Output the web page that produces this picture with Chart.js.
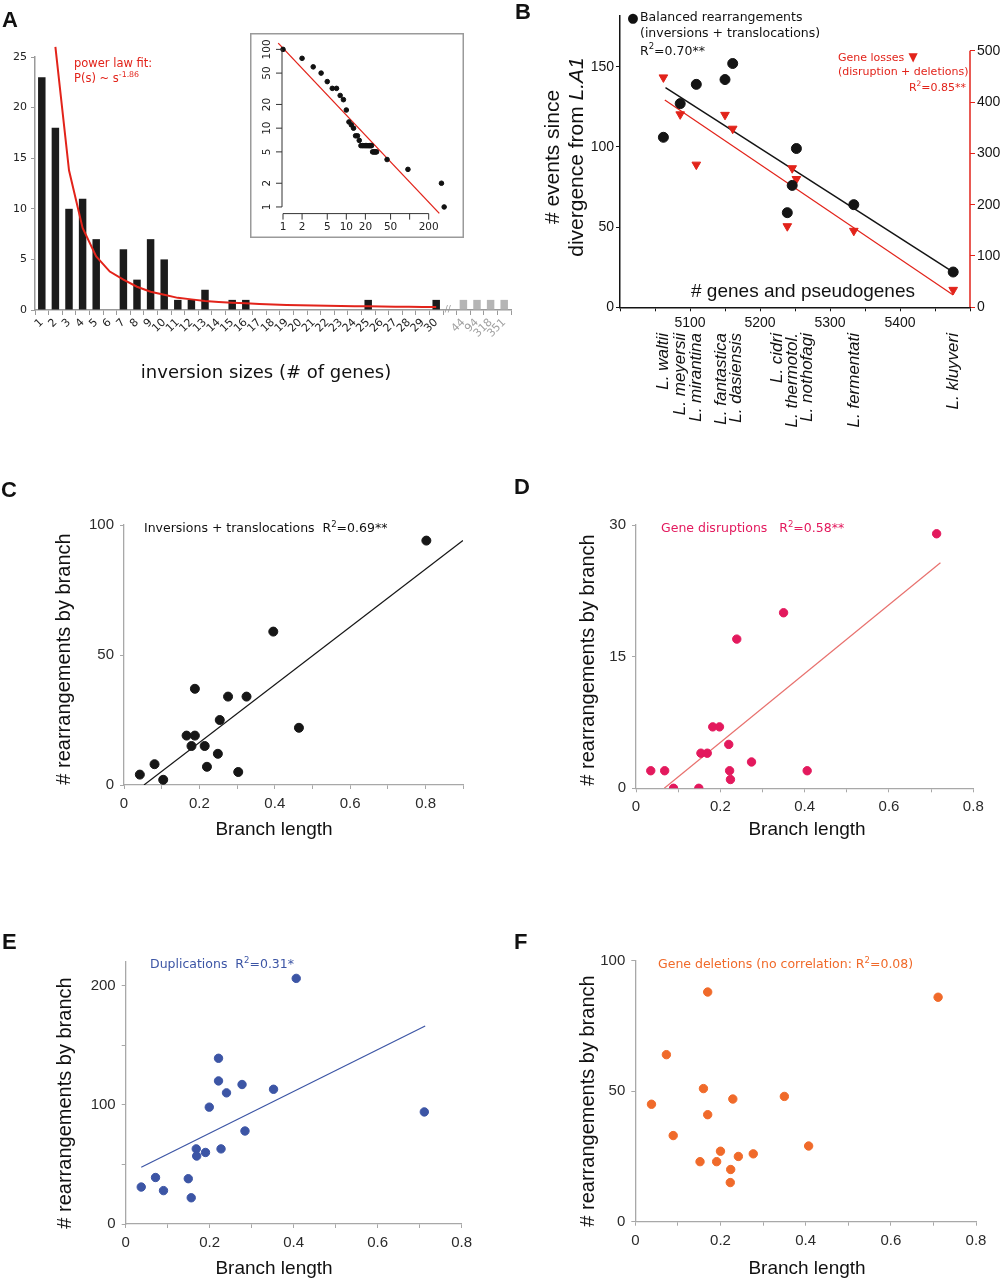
<!DOCTYPE html>
<html>
<head>
<meta charset="utf-8">
<title>Rearrangements and branch length</title>
<script src="https://cdn.jsdelivr.net/npm/chart.js@4.4.1/dist/chart.umd.min.js"></script>
<style>
  body { margin: 0; background: #fff; }
  #page { position: relative; width: 1000px; height: 1280px; overflow: hidden; }
  canvas { position: absolute; }
  .tag { position: absolute; z-index: 5; font: bold 22px "Liberation Sans", Arial, sans-serif; line-height: 22px; color: #111; }
</style>
</head>
<body>
<div id="page"></div>
<script>
const sans = '"Liberation Sans", Arial, sans-serif';
const deja = '"DejaVu Sans", Verdana, sans-serif';
const red = '#e2231a';

// ---- A: inversion size histogram
const sizeLabels = ['1','2','3','4','5','6','7','8','9','10','11','12','13','14','15','16','17','18','19','20',
                    '21','22','23','24','25','26','27','28','29','30','','44','94','318','351'];
const sizeCounts = [23,18,10,11,7,0,6,3,7,5,1,1,2,0,1,1,0,0,0,0,0,0,0,0,1,0,0,0,0,1,null,1,1,1,1];
const countTicks = [0,5,10,15,20,25];
// power law curve, one value per size category (none for size 1 or past 30)
const fitValues = [null,26,13.8,8.1,5.3,3.8,3.0,2.3,1.8,1.5,1.2,1.05,0.9,0.8,0.72,0.66,0.6,0.55,0.5,0.47,
                   0.45,0.42,0.4,0.38,0.36,0.34,0.33,0.32,0.3,0.29,null,null,null,null,null];

// ---- A inset: cumulative counts, log-log
const ccdfSizes = [1,2,3,4,5,6,7,8,9,10,11,12,13,14,15,16,17,18,19,20,21,22,23,24,25,26,27,28,29,30,44,94,318,351];
const ccdfCounts = [100,77,60,50,39,32,32,26,23,17,12,11,10,8,8,7,6,6,6,6,6,6,6,6,6,5,5,5,5,5,4,3,2,1];
const insetFitX = [0.84, 294];
const insetFitY = [120, 0.83];
const insetXTicks = [1,2,5,10,20,50,100,200];
const insetXLabels = ['1','2','5','10','20','50','','200'];
const insetYTicks = [1,2,5,10,20,50,100];

// ---- B: events vs genes
const species = ['L. waltii','L. meyersii','L. mirantina','L. fantastica','L. dasiensis',
                 'L. cidri','L. thermotol.','L. nothofagi','L. fermentati','L. kluyveri'];
const geneCounts = [5062,5086,5109,5150,5161,5239,5246,5252,5334,5476];
const balancedEvents = [106,127,139,142,152,59,76,99,64,22];
const geneLosses = [448,376,278,375,348,158,271,250,149,34];
const balancedFitX = [5065, 5476];
const balancedFitY = [137, 22];
const lossFitX = [5064, 5476];
const lossFitY = [404, 24];
const geneTicks = [5000,5050,5100,5150,5200,5250,5300,5350,5400,5450,5500];
const geneTickLabels = ['','','5100','','5200','','5300','','5400','',''];
const eventTicks = [0,50,100,150];
const lossTicks = [0,100,200,300,400,500];

// ---- C-F: per-branch counts vs branch length
const branchTicks = [0,0.1,0.2,0.3,0.4,0.5,0.6,0.7,0.8,0.9];
const branchTickLabels = ['0','','0.2','','0.4','','0.6','','0.8',''];

const invBranch = [0.042,0.081,0.104,0.166,0.188,0.188,0.179,0.214,0.220,0.249,0.254,0.276,0.325,0.303,0.396,0.464,0.802];
const invCount = [4,8,2,19,19,37,15,15,7,12,25,34,34,5,59,22,94];
const invFitX = [0.053, 0.899];
const invFitY = [0, 94];
const invTicks = [0,50,100];
const invTickLabels = ['0','50','100'];

const disBranch = [0.035,0.068,0.089,0.149,0.154,0.169,0.182,0.198,0.220,0.222,0.224,0.239,0.274,0.350,0.406,0.713];
const disCount = [2,2,0,0,4,4,7,7,5,2,1,17,3,20,2,29];
const disFitX = [0.067, 0.722];
const disFitY = [0, 25.7];
const disTicks = [0,15,30];
const disTickLabels = ['0','15','30'];

const dupBranch = [0.037,0.071,0.090,0.149,0.156,0.168,0.169,0.190,0.199,0.221,0.221,0.227,0.240,0.277,0.284,0.352,0.406,0.711];
const dupCount = [31,39,28,38,22,63,57,60,98,139,120,63,110,117,78,113,206,94];
const dupFitX = [0.037, 0.713];
const dupFitY = [47.6, 166];
const dupTicks = [0,50,100,150,200];
const dupTickLabels = ['0','','100','','200'];

const delBranch = [0.038,0.073,0.089,0.152,0.160,0.170,0.170,0.191,0.200,0.224,0.223,0.229,0.242,0.277,0.350,0.407,0.711];
const delCount = [45,64,33,23,51,88,41,23,27,20,15,47,25,26,48,29,86];
const delTicks = [0,50,100];
const delTickLabels = ['0','50','100'];

// ---------------------------------------------------------------
const page = document.getElementById('page');
Chart.defaults.font.family = sans;

function makeCanvas(box, bg) {
  const c = document.createElement('canvas');
  c.width = box[2]; c.height = box[3];
  c.style.left = box[0] + 'px'; c.style.top = box[1] + 'px';
  c.style.width = box[2] + 'px'; c.style.height = box[3] + 'px';
  if (bg) c.style.background = bg;
  page.appendChild(c);
  return c;
}
function tag(letter, x, y) {
  const d = document.createElement('div');
  d.className = 'tag'; d.textContent = letter;
  d.style.left = x + 'px'; d.style.top = y + 'px';
  page.appendChild(d);
}
const pts = (xs, ys) => xs.map((x, i) => ({x: x, y: ys[i]}));
const fix = vals => s => { s.ticks = vals.map(v => ({value: v})); };
const setW = w => s => { s.width = w; };
const setH = h => s => { s.height = h; };
const common = {
  responsive: false, animation: false, events: [], devicePixelRatio: 1,
  plugins: {legend: {display: false}, tooltip: {enabled: false}}
};

// text with ^{sup} and _{italic} pieces
function drawRich(ctx, n, ox, oy) {
  const size = n.size || 12.5, fam = n.family || deja;
  const parts = [];
  n.text.replace(/\^\{([^}]*)\}|_\{([^}]*)\}|([^^_]+)/g, (m, sup, it, txt) => {
    if (sup !== undefined) parts.push({t: sup, f: (size * 0.68) + 'px ' + fam, dy: -size * 0.36});
    else if (it !== undefined) parts.push({t: it, f: 'italic ' + size + 'px ' + fam, dy: 0});
    else parts.push({t: txt, f: size + 'px ' + fam, dy: 0});
    return m;
  });
  ctx.save();
  ctx.translate(n.x - ox, n.y - oy);
  if (n.rotate) ctx.rotate(n.rotate);
  ctx.fillStyle = n.color || '#111';
  ctx.textBaseline = 'middle';
  ctx.textAlign = 'left';
  let w = 0;
  parts.forEach(p => { ctx.font = p.f; p.w = ctx.measureText(p.t).width; w += p.w; });
  let x = n.align === 'center' ? -w / 2 : n.align === 'right' ? -w : 0;
  parts.forEach(p => { ctx.font = p.f; ctx.fillText(p.t, x, p.dy); x += p.w; });
  ctx.restore();
}
const notes = (items, box) => ({
  id: 'notes',
  afterDraw(chart) { items.forEach(n => drawRich(chart.ctx, n, box[0], box[1])); }
});

// ---------------- panel A
{
  const box = [0, 0, 520, 400], area = [35, 57, 511, 310];
  const axis = '#9a9a9a';
  new Chart(makeCanvas(box), {
    type: 'bar',
    data: {
      labels: sizeLabels,
      datasets: [
        {data: sizeCounts, backgroundColor: sizeCounts.map((v, i) => i > 30 ? '#b5b5b5' : '#1b1b1b'),
         barPercentage: 0.55, categoryPercentage: 1, order: 1},
        {type: 'line', data: fitValues, borderColor: red, borderWidth: 2, pointRadius: 0,
         tension: 0, clip: false, order: 0}
      ]
    },
    options: {
      ...common,
      layout: {padding: {left: 0, top: area[1] - box[1], right: box[0] + box[2] - area[2], bottom: 0}},
      scales: {
        x: {type: 'category', offset: true, afterFit: setH(box[3] - area[3]),
            grid: {offset: true, drawOnChartArea: false, tickLength: 5, tickColor: axis},
            border: {color: axis, width: 1.5},
            ticks: {autoSkip: false, minRotation: 45, maxRotation: 45, padding: 1,
                    font: {family: deja, size: 11}, color: c => c.index > 30 ? '#a0a0a0' : '#222'}},
        y: {min: 0, max: 25, afterBuildTicks: fix(countTicks), afterFit: setW(area[0] - box[0]),
            ticks: {padding: 4, font: {family: deja, size: 11}, color: '#222'},
            grid: {drawOnChartArea: false, tickLength: 4, tickColor: axis},
            border: {color: axis, width: 1.5}}
      }
    },
    plugins: [
      notes([
        {x: 74, y: 64, text: 'power law fit:', size: 11.5, color: red},
        {x: 74, y: 79, text: 'P(s) ~ s^{-1.86}', size: 11.5, color: red},
        {x: 266, y: 373, text: 'inversion sizes (# of genes)', size: 18, align: 'center'}
      ], box),
      {id: 'axisBreak', afterDraw(chart) {
        const ctx = chart.ctx, xs = chart.scales.x;
        ctx.save();
        ctx.font = '9px ' + deja; ctx.fillStyle = '#9a9a9a';
        ctx.textAlign = 'center'; ctx.textBaseline = 'middle';
        ctx.fillText('//', xs.getPixelForValue(30) - 2, chart.chartArea.bottom);
        ctx.restore();
      }}
    ]
  });
}

// ---------------- panel A inset
{
  const box = [250, 33, 214, 205];
  new Chart(makeCanvas(box, '#fff'), {
    type: 'scatter',
    data: {datasets: [
      {data: pts(ccdfSizes, ccdfCounts), backgroundColor: '#111', borderColor: '#111', pointRadius: 2.3, order: 0},
      {type: 'line', data: pts(insetFitX, insetFitY), borderColor: red, borderWidth: 1.3, pointRadius: 0, order: 1}
    ]},
    options: {
      ...common,
      layout: {padding: {left: 23.2, top: 7.4, right: 14.9, bottom: 23.4}},
      scales: {
        x: {type: 'logarithmic', display: false, min: 0.7, max: 420},
        y: {type: 'logarithmic', display: false, min: 0.8, max: 130}
      }
    },
    plugins: [{id: 'insetAxes', afterDraw(chart) {
      const ctx = chart.ctx, xs = chart.scales.x, ys = chart.scales.y;
      ctx.save();
      ctx.strokeStyle = '#9a9a9a'; ctx.lineWidth = 1.5;
      ctx.strokeRect(0.75, 0.75, chart.width - 1.5, chart.height - 1.5);
      const ax = xs.getPixelForValue(1) - 1, ay = chart.chartArea.bottom - 1;
      ctx.strokeStyle = '#333'; ctx.lineWidth = 1;
      ctx.beginPath();
      ctx.moveTo(ax, ys.getPixelForValue(1)); ctx.lineTo(ax, ys.getPixelForValue(100));
      ctx.moveTo(xs.getPixelForValue(1), ay); ctx.lineTo(xs.getPixelForValue(200), ay);
      insetYTicks.forEach(v => { const y = ys.getPixelForValue(v); ctx.moveTo(ax - 6, y); ctx.lineTo(ax, y); });
      insetXTicks.forEach(v => { const x = xs.getPixelForValue(v); ctx.moveTo(x, ay); ctx.lineTo(x, ay + 6); });
      ctx.stroke();
      ctx.fillStyle = '#222'; ctx.font = '10.5px ' + deja;
      ctx.textAlign = 'center'; ctx.textBaseline = 'middle';
      insetXTicks.forEach((v, i) => ctx.fillText(insetXLabels[i], xs.getPixelForValue(v), ay + 14));
      insetYTicks.forEach(v => {
        ctx.save();
        ctx.translate(ax - 15, ys.getPixelForValue(v));
        ctx.rotate(-Math.PI / 2);
        ctx.fillText(String(v), 0, 0);
        ctx.restore();
      });
      ctx.restore();
    }}]
  });
}

// ---------------- panel B
function spread(px, gap) {
  const out = px.slice();
  const groups = px.map((p, i) => [i]);
  const place = g => {
    const mean = g.reduce((s, i) => s + px[i], 0) / g.length;
    g.forEach((i, k) => { out[i] = mean + (k - (g.length - 1) / 2) * gap; });
  };
  let changed = true;
  while (changed) {
    changed = false;
    for (let g = 0; g < groups.length - 1; g++) {
      const a = groups[g], b = groups[g + 1];
      if (out[b[0]] - out[a[a.length - 1]] < gap) {
        groups.splice(g, 2, a.concat(b));
        place(groups[g]);
        changed = true;
        break;
      }
    }
  }
  return out;
}
{
  const box = [520, 0, 480, 440], area = [620, 15.4, 970, 307.3];
  const ink = '#141414';
  const tickFont = {family: sans, size: 14};
  new Chart(makeCanvas(box), {
    type: 'scatter',
    data: {datasets: [
      {data: pts(geneCounts, balancedEvents), yAxisID: 'y', backgroundColor: ink, borderColor: ink, pointRadius: 5, order: 0},
      {data: pts(geneCounts, geneLosses), yAxisID: 'y2', pointStyle: 'triangle', rotation: 180, pointRadius: 5,
       backgroundColor: red, borderColor: red, order: 0},
      {type: 'line', data: pts(balancedFitX, balancedFitY), yAxisID: 'y', borderColor: ink, borderWidth: 1.5, pointRadius: 0, order: 1},
      {type: 'line', data: pts(lossFitX, lossFitY), yAxisID: 'y2', borderColor: red, borderWidth: 1.2, pointRadius: 0, order: 1}
    ]},
    options: {
      ...common,
      layout: {padding: {left: 0, top: area[1], right: 0, bottom: box[3] - area[3] - 40}},
      scales: {
        x: {type: 'linear', min: 5000, max: 5500, afterBuildTicks: fix(geneTicks), afterFit: setH(40),
            ticks: {callback: (v, i) => geneTickLabels[i], autoSkip: false, maxRotation: 0, padding: 3, color: ink, font: tickFont},
            grid: {drawOnChartArea: false, tickLength: 4, tickColor: ink}, border: {color: ink, width: 1.5}},
        y: {position: 'left', min: 0, max: 182, afterBuildTicks: fix(eventTicks), afterFit: setW(area[0] - box[0]),
            ticks: {padding: 2, color: ink, font: tickFont},
            grid: {drawOnChartArea: false, tickLength: 4, tickColor: ink}, border: {color: ink, width: 1.5}},
        y2: {position: 'right', min: 0, max: 568.8, afterBuildTicks: fix(lossTicks), afterFit: setW(box[0] + box[2] - area[2]),
             ticks: {padding: 2, color: ink, font: tickFont},
             grid: {drawOnChartArea: false, tickLength: 5, tickColor: red}, border: {display: false}}
      }
    },
    plugins: [
      notes([
        {x: 633, y: 18.5, text: '\u25CF', size: 13, align: 'center'},
        {x: 640, y: 18, text: 'Balanced rearrangements'},
        {x: 640, y: 33.5, text: '(inversions + translocations)'},
        {x: 640, y: 51.5, text: 'R^{2}=0.70**'},
        {x: 838, y: 58.5, text: 'Gene losses', size: 11, color: red},
        {x: 913, y: 58, text: '\u25BC', size: 12, color: red, align: 'center'},
        {x: 838, y: 72, text: '(disruption + deletions)', size: 11, color: red},
        {x: 966, y: 88.5, text: 'R^{2}=0.85**', size: 11, color: red, align: 'right'},
        {x: 803, y: 292, text: '# genes and pseudogenes', size: 19, family: sans, align: 'center'},
        {x: 553, y: 157, text: '# events since', size: 21, family: sans, align: 'center', rotate: -Math.PI / 2},
        {x: 577, y: 157, text: 'divergence from _{L.A1}', size: 21, family: sans, align: 'center', rotate: -Math.PI / 2}
      ], box),
      {id: 'bExtras', afterDraw(chart) {
        const ctx = chart.ctx, xs = chart.scales.x, y2 = chart.scales.y2;
        ctx.save();
        // right axis line only spans its ticks
        ctx.strokeStyle = red; ctx.lineWidth = 1.5;
        ctx.beginPath();
        ctx.moveTo(chart.chartArea.right, y2.getPixelForValue(0));
        ctx.lineTo(chart.chartArea.right, y2.getPixelForValue(500));
        ctx.stroke();
        // species names under the axis, nudged apart where crowded
        const pos = spread(geneCounts.map(g => xs.getPixelForValue(g)), 15);
        ctx.fillStyle = '#111';
        ctx.font = 'italic 17px ' + sans;
        ctx.textAlign = 'right'; ctx.textBaseline = 'middle';
        species.forEach((s, i) => {
          ctx.save();
          ctx.translate(pos[i], 333);
          ctx.rotate(-Math.PI / 2);
          ctx.fillText(s, 0, 0);
          ctx.restore();
        });
        ctx.restore();
      }}
    ]
  });
}

// ---------------- panels C-F
function branchPanel(p) {
  const box = p.box, area = p.area;
  const axis = '#a8a8a8';
  const xt = branchTicks.filter(v => v <= p.xMax + 1e-9);
  const tickFont = {family: sans, size: 15};
  new Chart(makeCanvas(box), {
    type: 'scatter',
    data: {datasets: [
      {data: pts(p.xs, p.ys), backgroundColor: p.color, borderColor: p.color, pointRadius: p.r, order: 0},
      {type: 'line', data: pts(p.fitX, p.fitY), borderColor: p.lineColor, borderWidth: 1.2, pointRadius: 0, order: 1}
    ].filter(d => d.data.length)},
    options: {
      ...common,
      layout: {padding: {left: 0, top: area[1] - box[1], right: box[0] + box[2] - area[2], bottom: 0}},
      scales: {
        x: {type: 'linear', min: 0, max: p.xMax, afterBuildTicks: fix(xt), afterFit: setH(box[1] + box[3] - area[3]),
            ticks: {callback: (v, i) => branchTickLabels[i], autoSkip: false, maxRotation: 0, padding: 6, color: '#2b2b2b', font: tickFont},
            grid: {drawOnChartArea: false, tickLength: 4, tickColor: axis}, border: {color: axis, width: 1.3}},
        y: {min: 0, max: p.yMax, afterBuildTicks: fix(p.yTicks), afterFit: setW(area[0] - box[0]),
            ticks: {callback: (v, i) => p.yLabels[i], padding: 6, color: '#2b2b2b', font: tickFont},
            grid: {drawOnChartArea: false, tickLength: 4, tickColor: axis}, border: {color: axis, width: 1.3}}
      }
    },
    plugins: [notes([
      {x: p.noteAt[0], y: p.noteAt[1], text: p.note, color: p.noteColor},
      {x: p.yTitleAt[0], y: p.yTitleAt[1], text: '# rearrangements by branch', size: 20, family: sans, align: 'center', rotate: -Math.PI / 2},
      {x: p.xTitleAt[0], y: p.xTitleAt[1], text: 'Branch length', size: 19, family: sans, align: 'center'}
    ], box)]
  });
}

branchPanel({
  box: [0, 470, 500, 380], area: [124, 525, 463.3, 785], xMax: 0.9, yMax: 100,
  xs: invBranch, ys: invCount, fitX: invFitX, fitY: invFitY, yTicks: invTicks, yLabels: invTickLabels,
  color: '#161616', lineColor: '#161616', r: 4.5,
  note: 'Inversions + translocations  R^{2}=0.69**', noteAt: [144, 529], noteColor: '#111',
  yTitleAt: [64, 659], xTitleAt: [274, 830]
});
branchPanel({
  box: [500, 470, 500, 380], area: [636, 525, 973.3, 788.3], xMax: 0.8, yMax: 30,
  xs: disBranch, ys: disCount, fitX: disFitX, fitY: disFitY, yTicks: disTicks, yLabels: disTickLabels,
  color: '#e3195d', lineColor: '#e8716e', r: 4.2,
  note: 'Gene disruptions   R^{2}=0.58**', noteAt: [661, 529], noteColor: '#e3195d',
  yTitleAt: [588, 660], xTitleAt: [807, 830]
});
branchPanel({
  box: [0, 910, 500, 370], area: [125.7, 961.7, 461.7, 1224], xMax: 0.8, yMax: 220,
  xs: dupBranch, ys: dupCount, fitX: dupFitX, fitY: dupFitY, yTicks: dupTicks, yLabels: dupTickLabels,
  color: '#3c55a5', lineColor: '#3c55a5', r: 4.2,
  note: 'Duplications  R^{2}=0.31*', noteAt: [150, 965], noteColor: '#3c55a5',
  yTitleAt: [65, 1103], xTitleAt: [274, 1269]
});
branchPanel({
  box: [500, 910, 500, 370], area: [635.3, 960.7, 976, 1221.7], xMax: 0.8, yMax: 100,
  xs: delBranch, ys: delCount, fitX: [], fitY: [], yTicks: delTicks, yLabels: delTickLabels,
  color: '#f06a2a', lineColor: '#f06a2a', r: 4.2,
  note: 'Gene deletions (no correlation: R^{2}=0.08)', noteAt: [658, 965], noteColor: '#f06a2a',
  yTitleAt: [588, 1101], xTitleAt: [807, 1269]
});

tag('A', 2, 9);
tag('B', 515, 1);
tag('C', 1, 479);
tag('D', 514, 476);
tag('E', 2, 931);
tag('F', 514, 931);
</script>
</body>
</html>
